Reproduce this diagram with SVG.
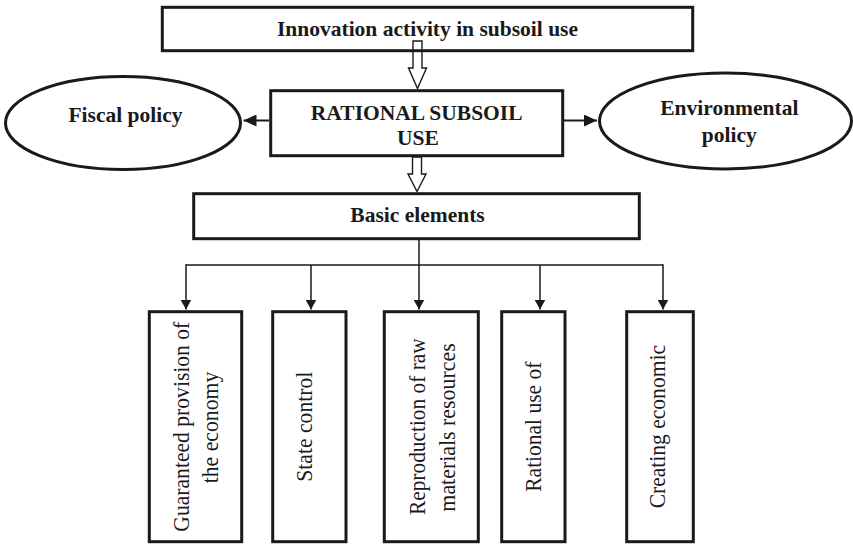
<svg xmlns="http://www.w3.org/2000/svg" width="853" height="545" viewBox="0 0 853 545">
<style>
.box{fill:none;stroke:#1a1a1a;stroke-width:3}
.ell{fill:#fff;stroke:#1a1a1a;stroke-width:3}
.tb{font-family:"Liberation Serif","Times New Roman",serif;font-weight:bold;font-size:21.5px;fill:#1a1a1a;text-anchor:middle}
.tr{font-family:"Liberation Serif","Times New Roman",serif;font-size:23.5px;fill:#1a1a1a;text-anchor:middle}
.hol{fill:#fff;stroke:#1a1a1a;stroke-width:1.4;stroke-linejoin:miter}
.side{fill:none;stroke:#1a1a1a;stroke-width:2}
.conn{fill:none;stroke:#1a1a1a;stroke-width:1.5}
</style>
<defs>
<marker id="big" markerUnits="userSpaceOnUse" markerWidth="13" markerHeight="12" viewBox="0 0 13 12" refX="13" refY="6" orient="auto"><path d="M0,0 L13,6 L0,12 Z" fill="#1a1a1a"/></marker>
<marker id="small" markerUnits="userSpaceOnUse" markerWidth="10" markerHeight="11" viewBox="0 0 10 11" refX="10" refY="5.5" orient="auto"><path d="M0,0 L10,5.5 L0,11 Z" fill="#1a1a1a"/></marker>
</defs>
<rect width="853" height="545" fill="#fff"/>
<g id="connectors">
<polygon class="hol" points="413,41 422,41 422,68 426.5,68 417.5,88.5 408.5,68 413,68"/>
<polygon class="hol" points="412.5,157 421.5,157 421.5,174 426,174 417,191.5 408,174 412.5,174"/>
<line class="side" x1="269" y1="120.5" x2="243.5" y2="120.5" marker-end="url(#big)"/>
<line class="side" x1="564" y1="120.5" x2="597" y2="120.5" marker-end="url(#big)"/>
<line class="conn" x1="419" y1="240" x2="419" y2="309.5" marker-end="url(#small)"/>
<line class="conn" x1="186" y1="265" x2="663" y2="265"/>
<line class="conn" x1="186" y1="264.3" x2="186" y2="309.5" marker-end="url(#small)"/>
<line class="conn" x1="311" y1="265" x2="311" y2="309.5" marker-end="url(#small)"/>
<line class="conn" x1="540" y1="265" x2="540" y2="309.5" marker-end="url(#small)"/>
<line class="conn" x1="663" y1="264.3" x2="663" y2="309.5" marker-end="url(#small)"/>
</g>
<g id="innovation">
<rect class="box" x="162.3" y="7.3" width="530.4" height="43.4"/>
<text class="tb" x="427.5" y="36">Innovation activity in subsoil use</text>
</g>
<g id="rational">
<rect class="box" x="270.7" y="90.7" width="292" height="65"/>
<text class="tb" x="416.7" y="120">RATIONAL SUBSOIL</text>
<text class="tb" x="418" y="145">USE</text>
</g>
<g id="fiscal">
<ellipse class="ell" cx="123" cy="123" rx="117.5" ry="46.5"/>
<text class="tb" x="125.5" y="121.7">Fiscal policy</text>
</g>
<g id="environmental">
<ellipse class="ell" cx="725.5" cy="121" rx="126" ry="48"/>
<text class="tb" x="729.3" y="115">Environmental</text>
<text class="tb" x="729.3" y="141.7">policy</text>
</g>
<g id="basic">
<rect class="box" x="193.7" y="193.7" width="445.6" height="45"/>
<text class="tb" x="417.5" y="221.7">Basic elements</text>
</g>
<g id="el1">
<rect class="box" x="149.3" y="311.7" width="92.4" height="230"/>
<text class="tr" transform="translate(189,426.7) rotate(-90)" textLength="210" lengthAdjust="spacingAndGlyphs">Guaranteed provision of</text>
<text class="tr" transform="translate(218,427.5) rotate(-90)" textLength="111.6" lengthAdjust="spacingAndGlyphs">the economy</text>
</g>
<g id="el2">
<rect class="box" x="272.7" y="311.7" width="73.3" height="230"/>
<text class="tr" transform="translate(312,426.7) rotate(-90)" textLength="110" lengthAdjust="spacingAndGlyphs">State control</text>
</g>
<g id="el3">
<rect class="box" x="384.3" y="311.7" width="94" height="230"/>
<text class="tr" transform="translate(424.5,426.7) rotate(-90)" textLength="176.7" lengthAdjust="spacingAndGlyphs">Reproduction of raw</text>
<text class="tr" transform="translate(454.5,427.5) rotate(-90)" textLength="168.3" lengthAdjust="spacingAndGlyphs">materials resources</text>
</g>
<g id="el4">
<rect class="box" x="501.7" y="311.7" width="63.3" height="230"/>
<text class="tr" transform="translate(541,426.7) rotate(-90)" textLength="130" lengthAdjust="spacingAndGlyphs">Rational use of</text>
</g>
<g id="el5">
<rect class="box" x="626.7" y="311.7" width="66.6" height="230"/>
<text class="tr" transform="translate(664.5,426.7) rotate(-90)" textLength="163.3" lengthAdjust="spacingAndGlyphs">Creating economic</text>
</g>
</svg>
